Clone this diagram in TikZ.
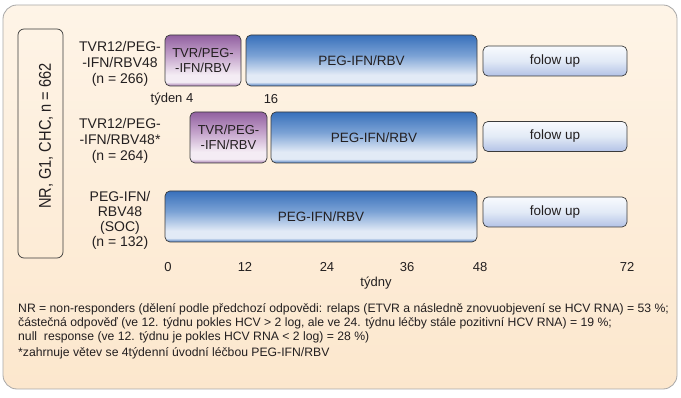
\documentclass[tikz,border=0pt]{standalone}
\usepackage{fontspec}
\setmainfont{Liberation Sans}
\newfontfamily\narrowsans[FakeStretch=0.86]{Liberation Sans}

% barvy
\definecolor{textgray}{HTML}{231F20}
\definecolor{framegray}{HTML}{3A3A3A}
\definecolor{panelline}{HTML}{A8A8A8}
\definecolor{paneltop}{HTML}{FEF4E7}
\definecolor{panelbot}{HTML}{FCE7CD}
\definecolor{ptop}{HTML}{9160A0}
\definecolor{pmid}{HTML}{C4A3CB}
\definecolor{plight}{HTML}{F4ECF4}
\definecolor{pbot}{HTML}{A57AAF}
\definecolor{btop}{HTML}{3870BB}
\definecolor{bmid}{HTML}{7BA2D5}
\definecolor{blight}{HTML}{E2EAF6}
\definecolor{bbot}{HTML}{4A7DC2}
\definecolor{ftop}{HTML}{F8FAFE}
\definecolor{fbot}{HTML}{B3C2E6}

\pgfdeclareverticalshading{shadeTVR}{100bp}{color(0bp)=(pbot); color(25bp)=(pbot);
  color(29bp)=(plight); color(36bp)=(plight); color(55bp)=(pmid); color(75bp)=(ptop); color(100bp)=(ptop)}
\pgfdeclareverticalshading{shadePEG}{100bp}{color(0bp)=(bbot); color(25bp)=(bbot);
  color(29bp)=(blight); color(36bp)=(blight); color(55bp)=(bmid); color(75bp)=(btop); color(100bp)=(btop)}
\pgfdeclareverticalshading{shadeFU}{100bp}{color(0bp)=(fbot); color(25bp)=(fbot);
  color(50bp)=(blight); color(75bp)=(ftop); color(100bp)=(ftop)}

\begin{document}
\begin{tikzpicture}[
    x=1pt, y=-1pt,
    every node/.style={font=\fontsize{13.5}{15}\selectfont, text=textgray},
    bar/.style={
        draw=framegray, line width=0.7pt, rounded corners=5pt,
        inner sep=0pt, align=center
    },
    tvrbar/.style={bar, shading=shadeTVR, minimum height=51,
        font=\fontsize{13}{15}\selectfont},
    pegbar/.style={bar, shading=shadePEG, minimum height=51},
    fubar/.style={bar, shading=shadeFU, minimum width=144, minimum height=30},
    rowlbl/.style={align=center, font=\fontsize{14}{16}\selectfont},
    ticklbl/.style={font=\fontsize{13}{15}\selectfont},
    note/.style={anchor=base west, inner sep=0pt,
        font=\fontsize{12.2}{14}\selectfont}
]
\useasboundingbox (0,0) rectangle (681,398);

% Podklad
\draw[panelline, line width=0.8pt, rounded corners=14pt,
    top color=paneltop, bottom color=panelbot] (3,5) rectangle (677,389);

% Skupina pacientu (svisle)
\node[draw=framegray, line width=0.7pt, rounded corners=6pt,
    minimum width=45, minimum height=229, inner sep=0pt] (nrbox) at (40.5,143.5) {};
\node[rotate=90, inner sep=0pt, font=\narrowsans\fontsize{17}{19}\selectfont] (nr) at (46,136)
    {NR, G1, CHC, n = 662};

% Vetev 1
\node[rowlbl] (lblA) at (120,64) {TVR12/PEG-\\-IFN/RBV48\\(n = 266)};
\node[tvrbar, minimum width=76] (tvrA) at (203,60.5) {TVR/PEG-\\-IFN/RBV};
\node[pegbar, minimum width=231] (pegA) at (361.5,60.5) {PEG-IFN/RBV};
\node[fubar] (fuA) at (555,61) {folow up};
\node[ticklbl] (wkA) at (172,99) {týden 4};
\node[ticklbl] (wkB) at (271,99) {16};

% Vetev 2
\node[rowlbl] (lblB) at (120,141) {TVR12/PEG-\\-IFN/RBV48*\\(n = 264)};
\node[tvrbar, minimum width=77] (tvrB) at (228.5,137.5) {TVR/PEG-\\-IFN/RBV};
\node[pegbar, minimum width=206] (pegB) at (374,137.5) {PEG-IFN/RBV};
\node[fubar] (fuB) at (555,136.5) {folow up};

% Vetev 3 (SOC)
\node[rowlbl, font=\fontsize{14}{15}\selectfont] (lblC) at (120,220)
    {PEG-IFN/\\RBV48\\(SOC)\\(n = 132)};
\node[pegbar, minimum width=312] (pegC) at (321,216.5) {PEG-IFN/RBV};
\node[fubar] (fuC) at (555,212) {folow up};

% Osa
\foreach \wk/\xx in {0/168, 12/245, 24/327, 36/407, 48/480, 72/627}
    \node[ticklbl] (ax\wk) at (\xx,267) {\wk};
\node[ticklbl] (tydny) at (376,283) {týdny};

% Poznamky
\node[note] (noteA) at (18,313) {NR = non-responders (dělení podle předchozí odpovědi: relaps (ETVR a následně znovuobjevení se HCV RNA) = 53~\%;};
\node[note] (noteB) at (18,327) {částečná odpověď (ve 12. týdnu pokles HCV > 2 log, ale ve 24. týdnu léčby stále pozitivní HCV RNA) = 19~\%;};
\node[note] (noteC) at (18,341) {null\ \ response (ve 12. týdnu je pokles HCV RNA < 2 log) = 28~\%)};
\node[note] (star) at (18,357) {*zahrnuje větev se 4týdenní úvodní léčbou PEG-IFN/RBV};

\end{tikzpicture}
\end{document}
